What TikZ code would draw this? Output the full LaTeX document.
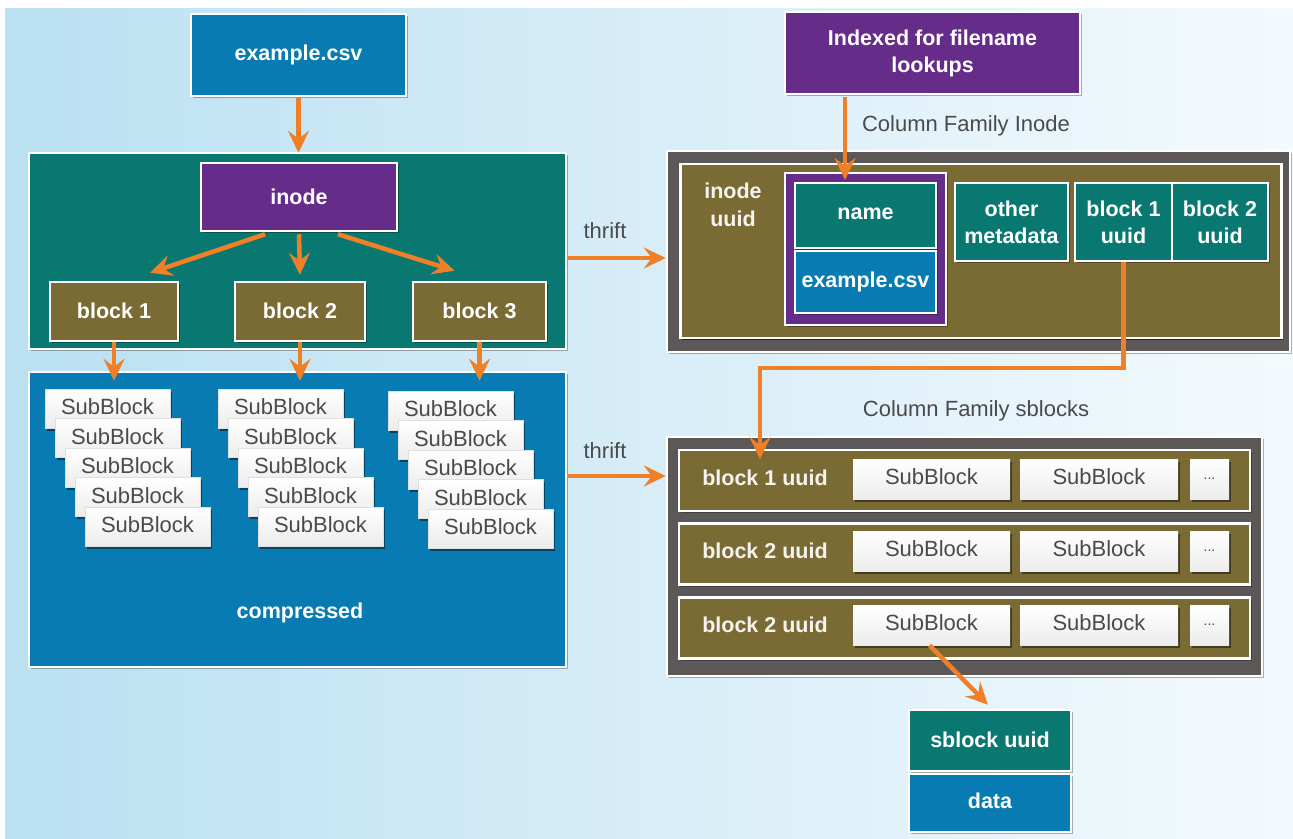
\documentclass[tikz,border=0pt]{standalone}
\usepackage{fontspec}
\setmainfont{Liberation Sans}
\usetikzlibrary{arrows.meta,shadows,calc}
\definecolor{cblue}{RGB}{8,123,178}
\definecolor{cteal}{RGB}{9,120,113}
\definecolor{cpurple}{RGB}{101,45,137}
\definecolor{colive}{RGB}{122,106,52}
\definecolor{cdark}{RGB}{92,88,88}
\definecolor{corange}{RGB}{240,128,40}
\definecolor{txtgrey}{RGB}{74,74,74}
\definecolor{bgleft}{RGB}{186,224,242}
\definecolor{bgright}{RGB}{244,250,253}
\begin{document}
\begin{tikzpicture}[x=1pt,y=-1pt,
  shd/.style={drop shadow={shadow xshift=1.5pt,shadow yshift=-2pt,opacity=0.3,fill=black}},
  box/.style={draw=white, line width=2.5pt, text=white, align=center, inner sep=0pt,
    font=\fontsize{21.5}{27}\selectfont\bfseries, shd},
  sub/.style={draw=gray!25, line width=0.6pt, top color=white, bottom color=gray!15,
    text=txtgrey, inner sep=0pt, font=\fontsize{22}{24}\selectfont,
    drop shadow={shadow xshift=2pt,shadow yshift=-2.5pt,opacity=0.45,fill=black}},
  arr/.style={draw=corange, line width=4.5pt, -{Stealth[length=22pt,width=21pt,inset=8pt]}},
  lbl/.style={text=txtgrey, font=\fontsize{22}{24}\selectfont},
  wlbl/.style={text=white!92!colive, align=center, font=\fontsize{21.5}{28}\selectfont\bfseries}
]
\useasboundingbox (0,0) rectangle (1293,838);
\fill[white] (0,0) rectangle (1293,838);
\shade[left color=bgleft, right color=bgright] (5,8) rectangle (1293,838);

% ---------- left side ----------
\node[box, fill=cblue, minimum width=215pt, minimum height=82pt] (csv) at (298.5,55) {\raisebox{4pt}{example.csv}};
\node[box, fill=cteal, minimum width=537pt, minimum height=196pt] (inbox) at (297.5,251) {};
\node[box, fill=cpurple, minimum width=196pt, minimum height=68pt] (inode) at (299,197) {inode};
\node[box, fill=colive, minimum width=128pt, minimum height=59pt] (b1) at (114,311.5) {\raisebox{2pt}{block 1}};
\node[box, fill=colive, minimum width=130pt, minimum height=59pt] (b2) at (300,311.5) {\raisebox{2pt}{block 2}};
\node[box, fill=colive, minimum width=133pt, minimum height=59pt] (b3) at (479.5,311.5) {\raisebox{2pt}{block 3}};
\node[box, fill=cblue, minimum width=537pt, minimum height=295pt] (comp) at (297.5,519.5) {};
\node[text=white, font=\fontsize{21.5}{24}\selectfont\bfseries] (comptxt) at (300,613) {compressed};

\foreach \c/\x/\y in {1/107.5/408.5, 2/280.5/408.5, 3/450.5/410.5}{
  \foreach \i in {0,...,4}{
    \node[sub, minimum width=125pt, minimum height=39pt] (sb\c\i) at (\x+10*\i,\y+29.5*\i) {\raisebox{3pt}{SubBlock}};
  }
}

\draw[arr] (csv.south) -- ([yshift=-1pt]csv.south |- inbox.north);
\draw[arr] ([xshift=-34pt,yshift=-2pt]inode.south) -- ([xshift=36pt,yshift=8pt]b1.north);
\draw[arr] ([yshift=-2pt]inode.south) -- ([yshift=6pt]b2.north);
\draw[arr] ([xshift=39pt,yshift=-2pt]inode.south) -- ([xshift=-25pt,yshift=10pt]b3.north);
\draw[arr] (b1.south) -- ([yshift=-10pt]b1.south |- comp.north);
\draw[arr] (b2.south) -- ([yshift=-10pt]b2.south |- comp.north);
\draw[arr] (b3.south) -- ([yshift=-10pt]b3.south |- comp.north);

% ---------- right side: inode family ----------
\node[box, fill=cpurple, minimum width=295pt, minimum height=82pt] (idx) at (932.5,53) {Indexed for filename\\lookups};
\node[lbl] (cfi) at (966,126) {Column Family Inode};
\node[box, fill=cdark, minimum width=623pt, minimum height=201pt] (cfinode) at (978.5,251.5) {};
\node[box, fill=colive, minimum width=601pt, minimum height=174pt, drop shadow={shadow xshift=1pt,shadow yshift=-2pt,opacity=0.4,fill=black}] (irow) at (981,251) {};
\node[wlbl] (iu) at (733,205) {inode\\uuid};
\node[box, fill=cpurple, minimum width=161pt, minimum height=152pt] (pc) at (865.5,249) {};
\node[box, fill=cteal, minimum width=141pt, minimum height=65pt] (name) at (865.5,215.5) {\raisebox{3pt}{name}};
\node[box, fill=cblue, minimum width=141pt, minimum height=62pt] (csv2) at (865.5,282) {\raisebox{4pt}{example.csv}};
\node[box, fill=cteal, minimum width=113pt, minimum height=78pt] (om) at (1011.5,222) {other\\metadata};
\node[box, fill=cteal, minimum width=97pt, minimum height=78pt] (bu1) at (1123.5,222) {block 1\\uuid};
\node[box, fill=cteal, minimum width=96pt, minimum height=78pt] (bu2) at (1220,222) {block 2\\uuid};

\coordinate (pin) at (845,180);
\draw[arr] ([yshift=-2pt]idx.south -| pin) -- (pin);

% ---------- right side: sblocks family ----------
\node[lbl] (cfs) at (976,411) {Column Family sblocks};
\node[box, fill=cdark, minimum width=595pt, minimum height=239pt] (cfsbox) at (964.5,556.5) {};
\foreach \r/\y/\t/\sy in {1/480.5/block 1 uuid/479, 2/554/block 2 uuid/551, 3/628/block 2 uuid/625}{
  \node[box, fill=colive, minimum width=571pt, minimum height=61pt] (row\r) at (964.5,\y) {};
  \node[wlbl] (rl\r) at (765,\y-3) {\t};
  \node[sub, draw=none, minimum width=157pt, minimum height=40pt] (rs\r a) at (931.5,\sy) {\raisebox{4pt}{SubBlock}};
  \node[sub, draw=none, minimum width=158pt, minimum height=40pt] (rs\r b) at (1099,\sy) {\raisebox{4pt}{SubBlock}};
  \node[sub, draw=none, minimum width=39pt, minimum height=40pt, font=\fontsize{14}{16}\selectfont] (rs\r c) at (1209.5,\sy) {...};
}

\coordinate (bend) at (760,368);
\coordinate (bin) at (760,459);
\draw[arr] (bu1.south) |- (bend) -- (bin);

\node[box, fill=cteal, minimum width=162pt, minimum height=61pt] (su) at (990,740.5) {\raisebox{2pt}{sblock uuid}};
\node[box, fill=cblue, minimum width=162pt, minimum height=58pt] (dat) at (990,803) {\raisebox{4pt}{data}};

\draw[arr] ([xshift=-2pt]rs3a.south) -- ([xshift=-2pt,yshift=4pt]su.north);

% ---------- thrift ----------
\draw[arr] ([yshift=-7pt]inbox.east) -- ([yshift=-6.5pt]cfinode.west);
\node[lbl] (t1) at (605,231) {thrift};
\draw[arr] ([yshift=43.5pt]comp.east) -- ([yshift=80.5pt]cfsbox.west);
\node[lbl] (t2) at (605,451) {thrift};
\end{tikzpicture}
\end{document}
